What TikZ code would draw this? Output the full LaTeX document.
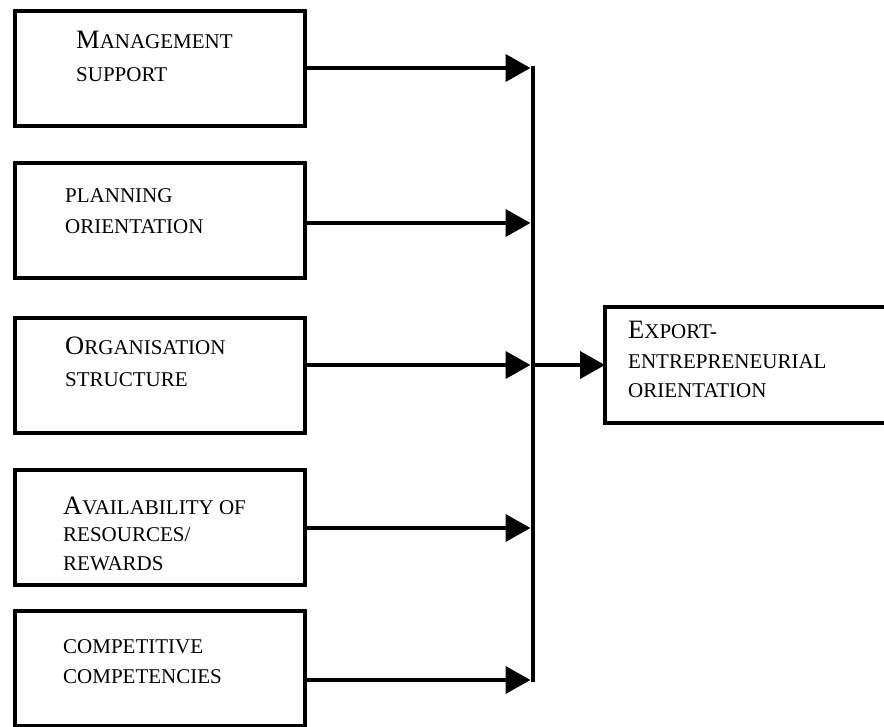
\documentclass[tikz,border=0pt]{standalone}
\usepackage{fontspec}
\setmainfont{Liberation Serif}
\usetikzlibrary{arrows.meta,calc}

% small-caps look: a taller initial capital followed by smaller capitals
\newcommand{\capsize}{\fontsize{21}{21}\selectfont}
\newcommand{\initcap}[1]{{\fontsize{26.5}{26.5}\selectfont #1}}

\tikzset{
  factorbox/.style={draw, line width=4pt, inner sep=0pt, outer sep=0pt,
                    minimum width=290pt, minimum height=115pt},
  label line/.style={anchor=base west, inner sep=0pt, font=\capsize},
  flow/.style={line width=4pt, -{Triangle[length=25pt,width=27pt]}},
  bus/.style={line width=4pt}
}

\begin{document}
\begin{tikzpicture}[x=1pt, y=-1pt]
  \clip (0,0) rectangle (884,727);
  \fill[white] (0,0) rectangle (884,727);

  % input factors
  \node[factorbox] (b1) at (159.5, 68.5) {};
  \node[factorbox] (b2) at (159.5, 220.5) {};
  \node[factorbox] (b3) at (159.5, 375.5) {};
  \node[factorbox] (b4) at (159.5, 527.5) {};
  \node[factorbox] (b5) at (159.5, 668.5) {};

  % outcome
  \node[factorbox, minimum height=116pt] (eo) at (750, 365) {};

  % labels
  \node[label line] (t1a) at (76, 49) {\initcap{M}ANAGEMENT};
  \node[label line] (t1b) at (76, 82) {SUPPORT};
  \node[label line] (t2a) at (65, 203) {PLANNING};
  \node[label line] (t2b) at (65, 234) {ORIENTATION};
  \node[label line] (t3a) at (65, 355) {\initcap{O}RGANISATION};
  \node[label line] (t3b) at (65, 387) {STRUCTURE};
  \node[label line] (t4a) at (63, 514) {\initcap{A}VAILABILITY OF};
  \node[label line] (t4b) at (63, 541) {RESOURCES/};
  \node[label line] (t4c) at (63, 570) {REWARDS};
  \node[label line] (t5a) at (63, 653) {COMPETITIVE};
  \node[label line] (t5b) at (63, 683) {COMPETENCIES};
  \node[label line] (tea) at (628, 339) {\initcap{E}XPORT-};
  \node[label line] (teb) at (628, 369) {ENTREPRENEURIAL};
  \node[label line] (tec) at (628, 398) {ORIENTATION};

  % junctions on the collecting bus
  \coordinate (j1) at (533, 68);
  \coordinate (j2) at (533, 223);
  \coordinate (j3) at (533, 365);
  \coordinate (j4) at (533, 528);
  \coordinate (j5) at (533, 680);

  \draw[bus] ($(j1)+(0,-2)$) -- ($(j5)+(0,2)$);

  \draw[flow, shorten >=2.5pt] (b1.east |- j1) -- (j1);
  \draw[flow, shorten >=2.5pt] (b2.east |- j2) -- (j2);
  \draw[flow, shorten >=2.5pt] (b3.east |- j3) -- (j3);
  \draw[flow, shorten >=2.5pt] (b4.east |- j4) -- (j4);
  \draw[flow, shorten >=2.5pt] (b5.east |- j5) -- (j5);

  \draw[flow] (j3) -- (eo.west);
\end{tikzpicture}
\end{document}
